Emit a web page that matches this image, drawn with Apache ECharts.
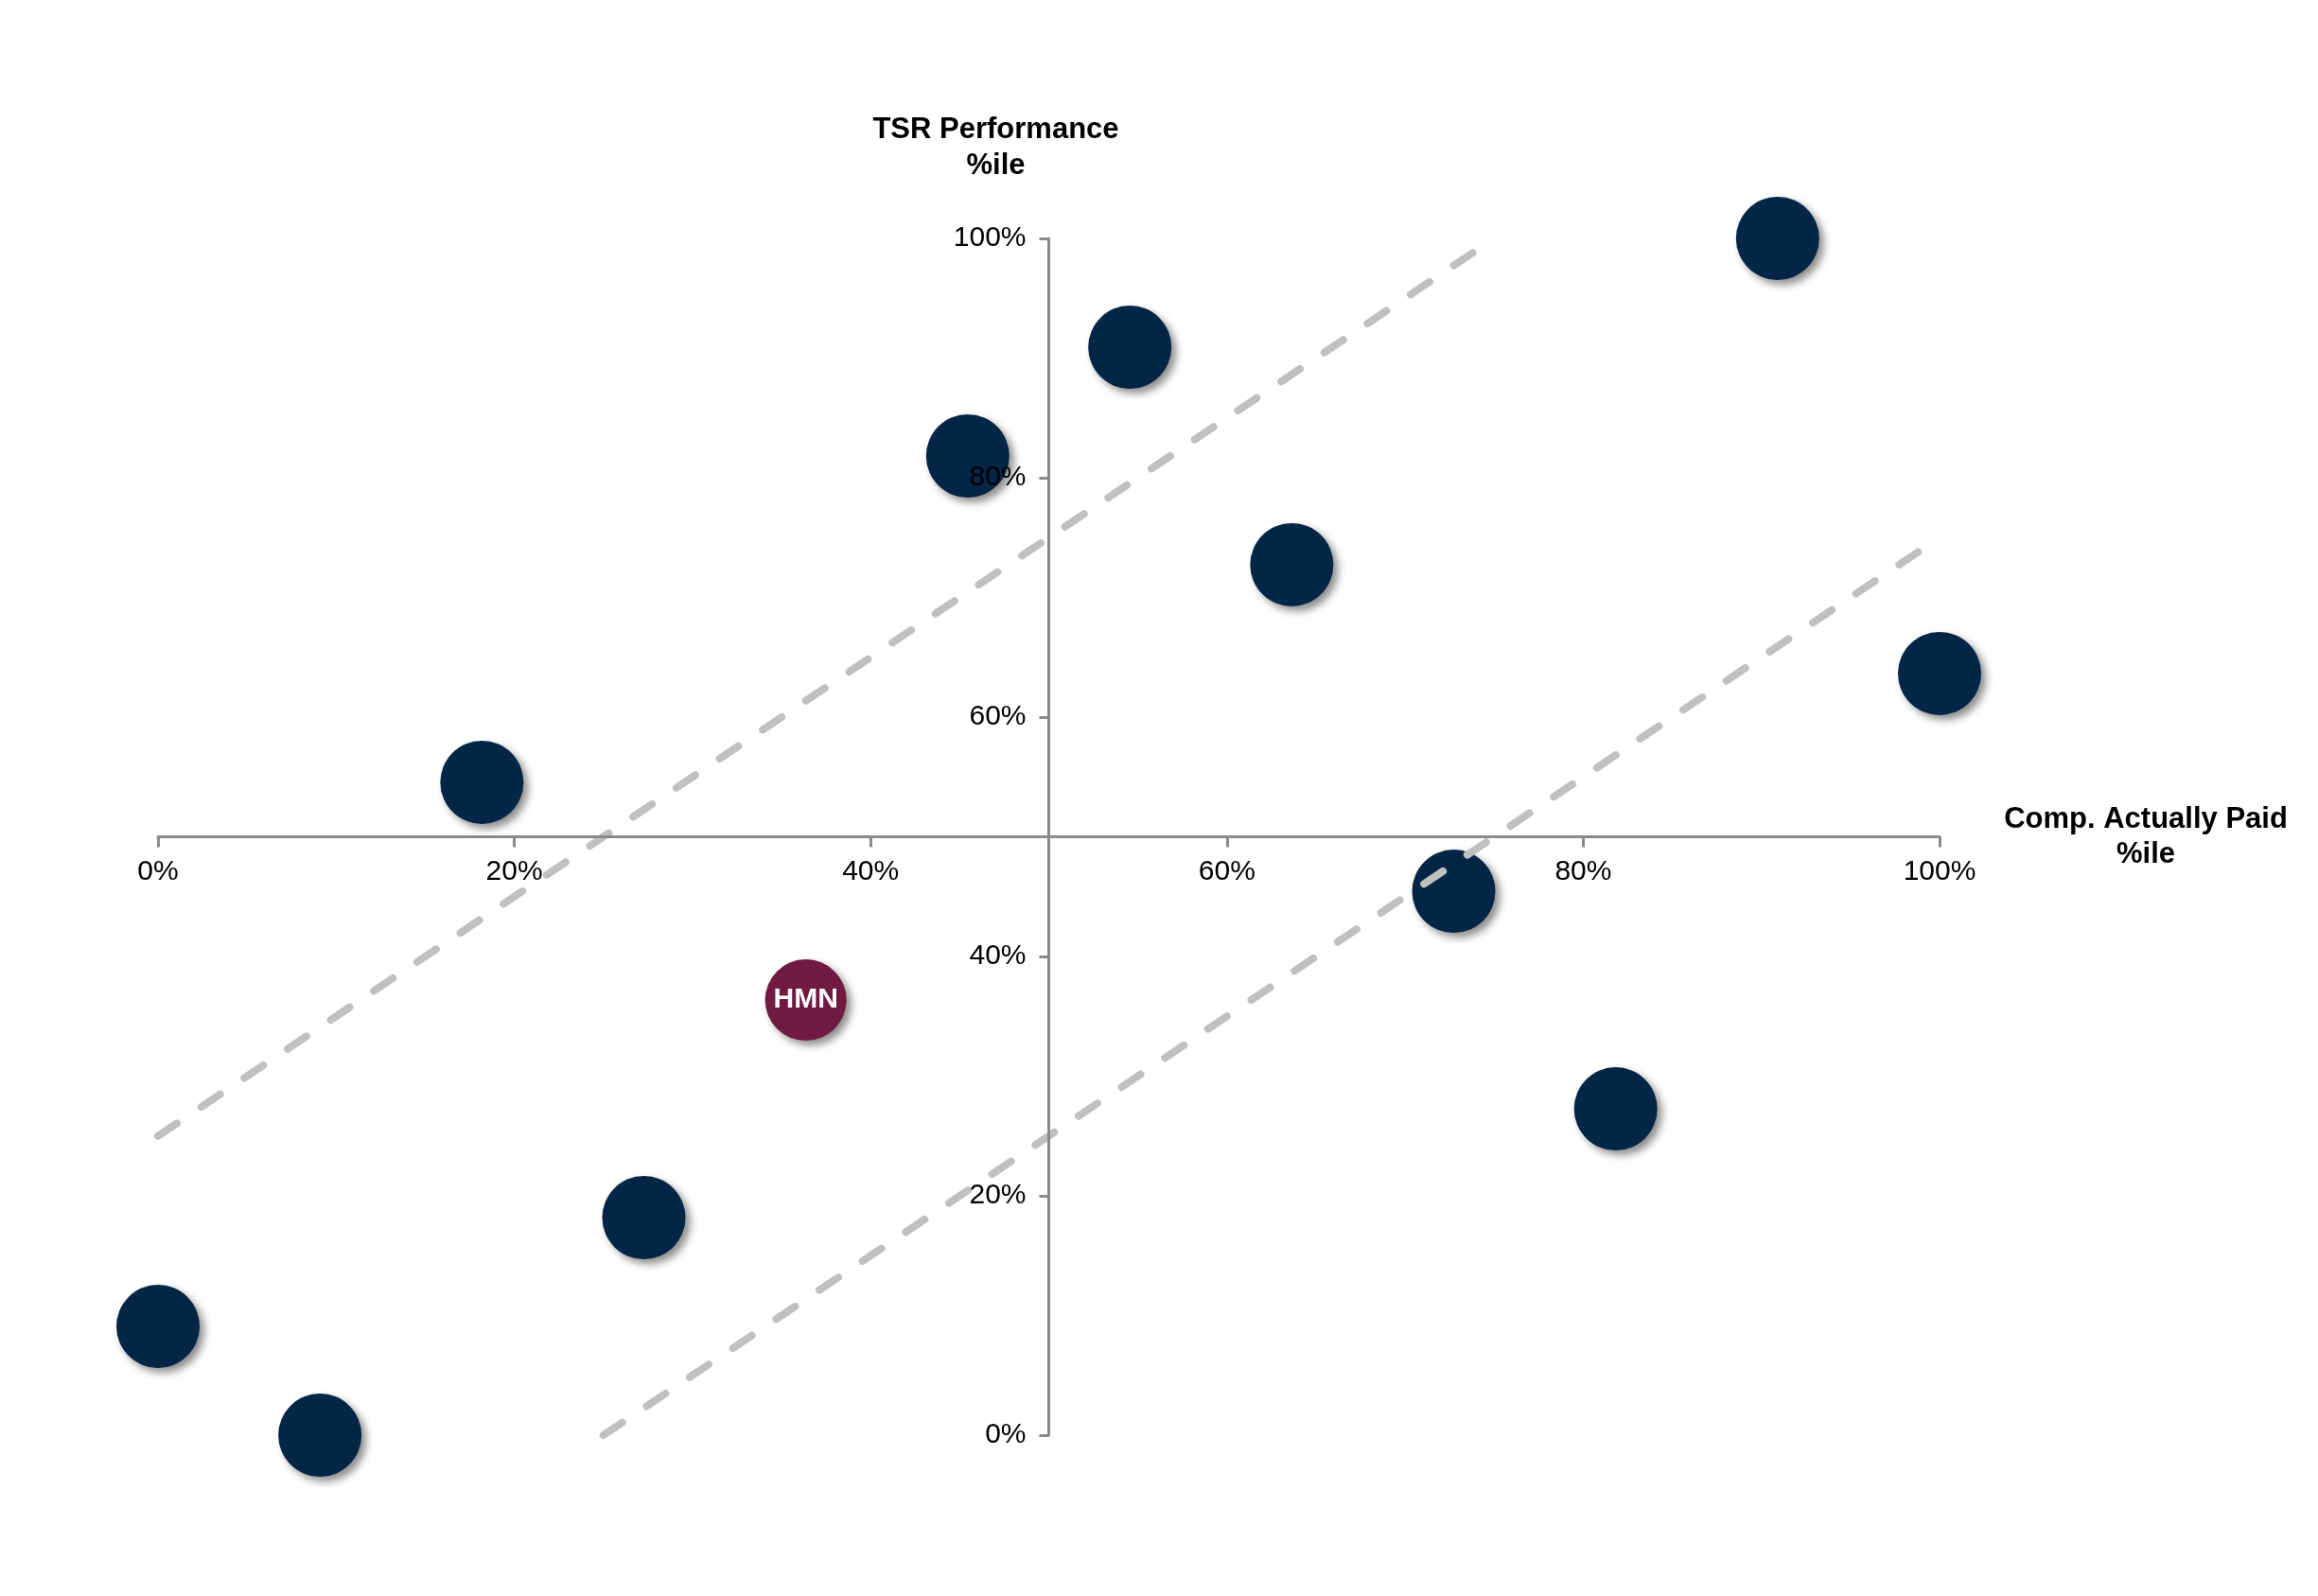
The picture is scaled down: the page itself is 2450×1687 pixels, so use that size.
<!DOCTYPE html>
<html>
<head>
<meta charset="utf-8">
<script src="https://cdn.jsdelivr.net/npm/echarts@6/dist/echarts.min.js"></script>
<style>html,body{margin:0;padding:0;background:#fff}#c{width:2450px;height:1687px}</style>
</head>
<body>
<div id="c"></div>
<script>
// Peer companies: Comp. Actually Paid %ile (x) vs TSR Performance %ile (y)
const peerX = [0, 9.09, 18.18, 27.27, 45.45, 54.55, 63.64, 72.73, 81.82, 90.91, 100];
const peerY = [9.09, 0, 54.55, 18.18, 81.82, 90.91, 72.73, 45.45, 27.27, 100, 63.64];
const hmnPoint = [36.36, 36.36];
const hmnLabel = 'HMN';
// Alignment band lines
const upperLine = [[0, 25], [75, 100]];
const lowerLine = [[25, 0], [100, 75]];
const xName = 'Comp. Actually Paid\n%ile';
const yName = 'TSR Performance\n%ile';

const font = 'Arial, "Liberation Sans", Helvetica, sans-serif';
const axisColor = '#8a8a8a';
const gridL = 167, gridR = 400, gridT = 252, gridB = 170;
const gridW = 2450 - gridL - gridR, gridH = 1687 - gridT - gridB;

const chart = echarts.init(document.getElementById('c'), null, {renderer: 'canvas'});
const shadow = {opacity: 1, shadowBlur: 9, shadowOffsetX: 5, shadowOffsetY: 5, shadowColor: 'rgba(0,0,0,0.45)'};
chart.setOption({
  animation: false,
  backgroundColor: '#ffffff',
  grid: {left: gridL, right: gridR, top: gridT, bottom: gridB},
  xAxis: {
    type: 'value', min: 0, max: 100, interval: 20, position: 'bottom', z: 10,
    offset: -gridH / 2,
    splitLine: {show: false},
    axisLine: {show: true, lineStyle: {color: axisColor, width: 3}},
    axisTick: {show: true, length: 11, lineStyle: {color: axisColor, width: 3}},
    axisLabel: {margin: 22, color: '#000', fontFamily: font, fontSize: 30, formatter: v => v + '%'},
    name: xName, nameLocation: 'end', nameGap: 218,
    nameTextStyle: {fontFamily: font, fontSize: 31, fontWeight: 'bold', color: '#000', align: 'center', verticalAlign: 'middle', lineHeight: 37}
  },
  yAxis: {
    type: 'value', min: 0, max: 100, interval: 20, position: 'left', z: 10,
    offset: -gridW / 2,
    splitLine: {show: false},
    axisLine: {show: true, lineStyle: {color: axisColor, width: 3}},
    axisTick: {show: true, length: 10, lineStyle: {color: axisColor, width: 3}},
    axisLabel: {margin: 24, color: '#000', fontFamily: font, fontSize: 30, formatter: v => v + '%'},
    name: yName, nameLocation: 'end', nameGap: 96,
    nameTextStyle: {fontFamily: font, fontSize: 31, fontWeight: 'bold', color: '#000', align: 'center', verticalAlign: 'middle', lineHeight: 38, padding: [0, 112, 0, 0]}
  },
  series: [
    {
      type: 'scatter', z: 2, symbol: 'circle', symbolSize: 88,
      data: peerX.map((x, i) => [x, peerY[i]]),
      itemStyle: Object.assign({color: '#032647'}, shadow)
    },
    {
      type: 'scatter', z: 2, symbol: 'circle', symbolSize: 86,
      data: [hmnPoint],
      itemStyle: Object.assign({color: '#701A42'}, shadow),
      label: {show: true, position: 'inside', formatter: hmnLabel, color: '#fff', fontFamily: font, fontSize: 30, fontWeight: 'bold'}
    },
    {
      type: 'line', z: 3, symbol: 'none', data: upperLine,
      lineStyle: {color: '#c0c0c0', width: 8, type: [24, 31], cap: 'round'}
    },
    {
      type: 'line', z: 3, symbol: 'none', data: lowerLine,
      lineStyle: {color: '#c0c0c0', width: 8, type: [24, 31], cap: 'round'}
    }
  ]
});
</script>
</body>
</html>
